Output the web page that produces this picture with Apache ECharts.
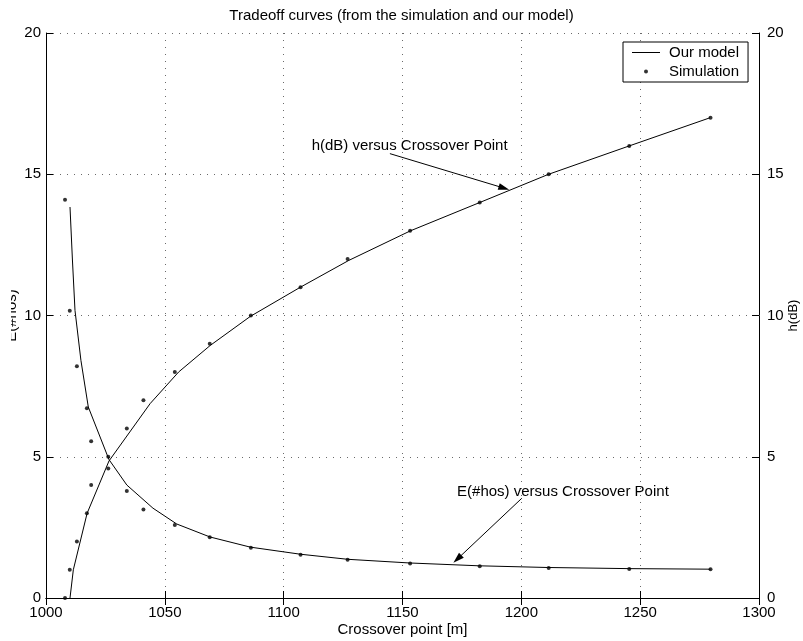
<!DOCTYPE html>
<html>
<head>
<meta charset="utf-8">
<script src="https://cdn.jsdelivr.net/npm/echarts@6/dist/echarts.min.js"></script>
<style>
  html, body { margin: 0; padding: 0; background: #fff; }
  #chart { width: 803px; height: 641px; }
</style>
</head>
<body>
<div id="chart"></div>
<script>
// Simulated crossover points and the measured values at each of them
const simX = [1008.0, 1010.0, 1013.0, 1017.2, 1019.0, 1026.2, 1034.0, 1041.0, 1054.2,
              1068.9, 1086.2, 1107.1, 1126.9, 1153.2, 1182.5, 1211.5, 1245.4, 1279.6];
const simH = [0, 1, 2, 3, 4, 5, 6, 7, 8, 9, 10, 11, 12, 13, 14, 15, 16, 17];
const simE = [14.1, 10.17, 8.2, 6.72, 5.55, 4.58, 3.79, 3.13, 2.58,
              2.15, 1.78, 1.53, 1.35, 1.22, 1.12, 1.06, 1.03, 1.02];

// Model curve: hysteresis h(dB) against crossover point
const modelHX = [1010.1, 1011.5, 1017.3, 1026.5, 1043.8, 1055.8, 1069.1, 1086.0,
                 1107.0, 1127.4, 1153.4, 1182.5, 1211.5, 1245.3, 1279.4];
const modelH  = [0, 1, 3, 4.85, 6.88, 8.0, 8.94, 9.97,
                 11.0, 11.95, 13.0, 14.0, 15.0, 16.0, 17.0];

// Model curve: expected number of handoffs against crossover point
const modelEX = [1010.1, 1011.1, 1012.2, 1014.7, 1017.8, 1026.5, 1034.0, 1045.0, 1055.0,
                 1069.0, 1086.0, 1107.0, 1127.0, 1153.0, 1182.0, 1211.0, 1245.0, 1279.6];
const modelE  = [13.84, 12.0, 10.18, 8.41, 6.76, 4.9, 4.0, 3.18, 2.62,
                 2.16, 1.8, 1.55, 1.37, 1.24, 1.14, 1.08, 1.04, 1.02];

// Axis ranges
const xRange = { min: 1000, max: 1300, interval: 50 };
const yRange = { min: 0, max: 20, interval: 5 };

// Curve annotations: text anchor, arrow start, arrow end
const hNote = { text: 'h(dB) versus Crossover Point', at: [1153.0, 16.0], from: [1144.7, 15.73], to: [1192.7, 14.51] };
const eNote = { text: 'E(#hos) versus Crossover Point', at: [1217.5, 3.74], from: [1200.2, 3.53], to: [1173.1, 1.38] };

const FONT = "'Liberation Sans', Arial, Helvetica, sans-serif";
const zip = (xs, ys) => xs.map((x, i) => [x, ys[i]]);

const dotted = { color: '#6a6a6a', width: 1, type: [1, 6] };
const blackAxis = { show: true, lineStyle: { color: '#000', width: 1 } };
const inTicks = { show: true, inside: true, length: 7, lineStyle: { color: '#000', width: 1 } };
const tickText = { color: '#000', fontSize: 15, fontFamily: FONT, formatter: v => String(v) };

function note(n) {
  return {
    markLine: {
      silent: true,
      symbol: ['none', 'triangle'],
      symbolSize: [7, 11],
      lineStyle: { color: '#000', width: 1, type: 'solid' },
      itemStyle: { color: '#000' },
      label: { show: false },
      emphasis: { disabled: true },
      data: [[{ coord: n.from }, { coord: n.to }]]
    },
    markPoint: {
      silent: true,
      symbol: 'circle',
      symbolSize: 1,
      itemStyle: { color: 'rgba(0,0,0,0)' },
      label: { show: true, position: 'inside', formatter: n.text, color: '#000', fontSize: 15, fontFamily: FONT },
      data: [{ coord: n.at }]
    }
  };
}

const chart = echarts.init(document.getElementById('chart'), null, { renderer: 'canvas' });
chart.setOption({
  backgroundColor: '#fff',
  animation: false,
  title: {
    text: 'Tradeoff curves (from the simulation and our model)',
    left: 'center',
    top: 3,
    textStyle: { color: '#000', fontSize: 15, fontWeight: 'normal', fontFamily: FONT }
  },
  legend: {
    orient: 'vertical',
    left: 623,
    top: 42,
    padding: [3, 9, 3, 9],
    itemGap: 4,
    itemWidth: 28,
    itemHeight: 4,
    backgroundColor: '#fff',
    borderColor: '#000',
    borderWidth: 1,
    textStyle: { color: '#000', fontSize: 15, fontFamily: FONT, padding: [0, 0, 0, 4] },
    data: [
      { name: 'Our model', icon: 'path://M0,0H28V1H0Z', itemStyle: { color: '#000' } },
      { name: 'Simulation', icon: 'circle', itemStyle: { color: '#000' } }
    ]
  },
  grid: { left: 46, right: 44, top: 33, bottom: 43, containLabel: false, outerBoundsMode: 'none' },
  xAxis: [
    {
      type: 'value', position: 'bottom', ...xRange,
      name: 'Crossover point [m]', nameLocation: 'middle', nameGap: 24, nameMoveOverlap: false,
      nameTextStyle: { color: '#000', fontSize: 15, fontFamily: FONT },
      axisLine: blackAxis, axisTick: inTicks,
      axisLabel: { ...tickText, margin: 7 },
      splitLine: { show: true, lineStyle: dotted }
    },
    {
      type: 'value', position: 'top', ...xRange,
      axisLine: blackAxis, axisTick: inTicks,
      axisLabel: { show: false }, splitLine: { show: false }
    }
  ],
  yAxis: [
    {
      type: 'value', position: 'left', ...yRange,
      name: 'E(#hos)', nameLocation: 'middle', nameGap: 27, nameMoveOverlap: false,
      nameTextStyle: { color: '#000', fontSize: 15, fontFamily: FONT },
      axisLine: blackAxis, axisTick: inTicks,
      axisLabel: { ...tickText, margin: 5 },
      splitLine: { show: true, lineStyle: dotted }
    },
    {
      type: 'value', position: 'right', ...yRange,
      name: 'h(dB)', nameLocation: 'middle', nameGap: 28, nameMoveOverlap: false,
      nameTextStyle: { color: '#000', fontSize: 13, fontFamily: FONT },
      axisLine: blackAxis, axisTick: inTicks,
      axisLabel: { ...tickText, margin: 8 },
      splitLine: { show: false }
    }
  ],
  series: [
    {
      name: 'Our model', type: 'line', yAxisIndex: 0, symbol: 'none',
      lineStyle: { color: '#000', width: 1 }, itemStyle: { color: '#000' },
      data: zip(modelEX, modelE), z: 3,
      ...note(eNote)
    },
    {
      name: 'Our model', type: 'line', yAxisIndex: 1, symbol: 'none',
      lineStyle: { color: '#000', width: 1 }, itemStyle: { color: '#000' },
      data: zip(modelHX, modelH), z: 3,
      ...note(hNote)
    },
    {
      name: 'Simulation', type: 'scatter', yAxisIndex: 0, symbol: 'circle', symbolSize: 4,
      itemStyle: { color: '#000' }, data: zip(simX, simE), z: 4
    },
    {
      name: 'Simulation', type: 'scatter', yAxisIndex: 1, symbol: 'circle', symbolSize: 4,
      itemStyle: { color: '#000' }, data: zip(simX, simH), z: 4
    }
  ],
  graphic: [
    // the figure's left edge trims part of the rotated y-axis title
    { type: 'rect', left: 0, top: 0, z: 100, shape: { width: 11, height: 641 }, style: { fill: '#fff' }, silent: true }
  ]
});
</script>
</body>
</html>
